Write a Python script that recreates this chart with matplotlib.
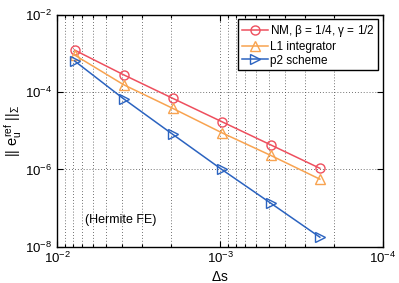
import matplotlib
matplotlib.use("Agg")
import matplotlib.pyplot as plt
from matplotlib.ticker import LogLocator, NullFormatter

plt.rcParams['font.family'] = ['Liberation Sans', 'DejaVu Sans']
plt.rcParams['mathtext.fontset'] = 'custom'
plt.rcParams['mathtext.rm'] = 'Liberation Sans'
plt.rcParams['mathtext.it'] = 'Liberation Sans'
plt.rcParams['mathtext.bf'] = 'Liberation Sans'

ds = [1/128, 1/256, 1/512, 1/1024, 1/2048, 1/4096]
err_nm = [1.22e-3, 2.8e-4, 6.9e-5, 1.72e-5, 4.3e-6, 1.07e-6]
err_l1 = [9.1e-4, 1.55e-4, 3.8e-5, 8.9e-6, 2.3e-6, 5.6e-7]
err_p2 = [6.4e-4, 6.7e-5, 8.1e-6, 1.0e-6, 1.34e-7, 1.77e-8]
labels = [r'NM, $\beta$ = 1/4, $\gamma$ = 1/2', 'L1 integrator', 'p2 scheme']
yticks = [1e-8, 1e-6, 1e-4, 1e-2]
xticks = [1e-4, 1e-3, 1e-2]

fig = plt.figure(figsize=(3.99, 2.83), dpi=100)
ax = fig.add_axes([0.143, 0.128, 0.817, 0.820])

ax.plot(ds, err_nm, '-o', color='#EE4F5E', mfc='none', ms=6.5, lw=1.1, label=labels[0])
ax.plot(ds, err_l1, '-^', color='#F8A350', mfc='none', ms=6.5, lw=1.1, label=labels[1])
ax.plot(ds, err_p2, '->', color='#2B63C0', mfc='none', ms=6.5, lw=1.1, label=labels[2])

ax.set_xscale('log')
ax.set_yscale('log')
ax.set_xlim(1e-2, 1e-4)
ax.set_ylim(1e-8, 1e-2)
ax.set_xticks(xticks)
ax.set_yticks(yticks)
ax.xaxis.set_minor_locator(LogLocator(base=10, subs=range(2, 10)))
ax.xaxis.set_minor_formatter(NullFormatter())
ax.yaxis.set_minor_locator(plt.NullLocator())

ax.grid(True, which='major', axis='both', ls=(0, (1, 2.5)), color='#444444', lw=0.6)
ax.grid(True, which='minor', axis='x', ls=(0, (1, 2.5)), color='#444444', lw=0.6)

ax.tick_params(which='both', direction='in', top=True, right=True, labelsize=9.5, width=0.8)
ax.tick_params(which='major', length=4)
ax.tick_params(axis='x', which='major', pad=3)
ax.tick_params(which='minor', length=2)
for s in ax.spines.values():
    s.set_linewidth(1.0)
for t in ax.yaxis.get_major_ticks():
    t.label1.set_verticalalignment('center_baseline')

ax.set_xlabel(r'$\Delta$s', fontsize=10)
ax.xaxis.set_label_coords(0.5, -0.1)
ax.set_ylabel(r'$||\ e_u^{ref}\ ||_\Sigma$', fontsize=10.5, labelpad=1)

ax.text(0.086, 0.115, '(Hermite FE)', transform=ax.transAxes, fontsize=9, va='center')

leg = ax.legend(loc='upper right', fontsize=8.5, fancybox=False, framealpha=1,
                edgecolor='black', borderpad=0.3, handlelength=2.2,
                handletextpad=0.2, labelspacing=0.15, borderaxespad=0.4)
leg.get_frame().set_linewidth(1.0)

fig.savefig('out.png', dpi=100)
